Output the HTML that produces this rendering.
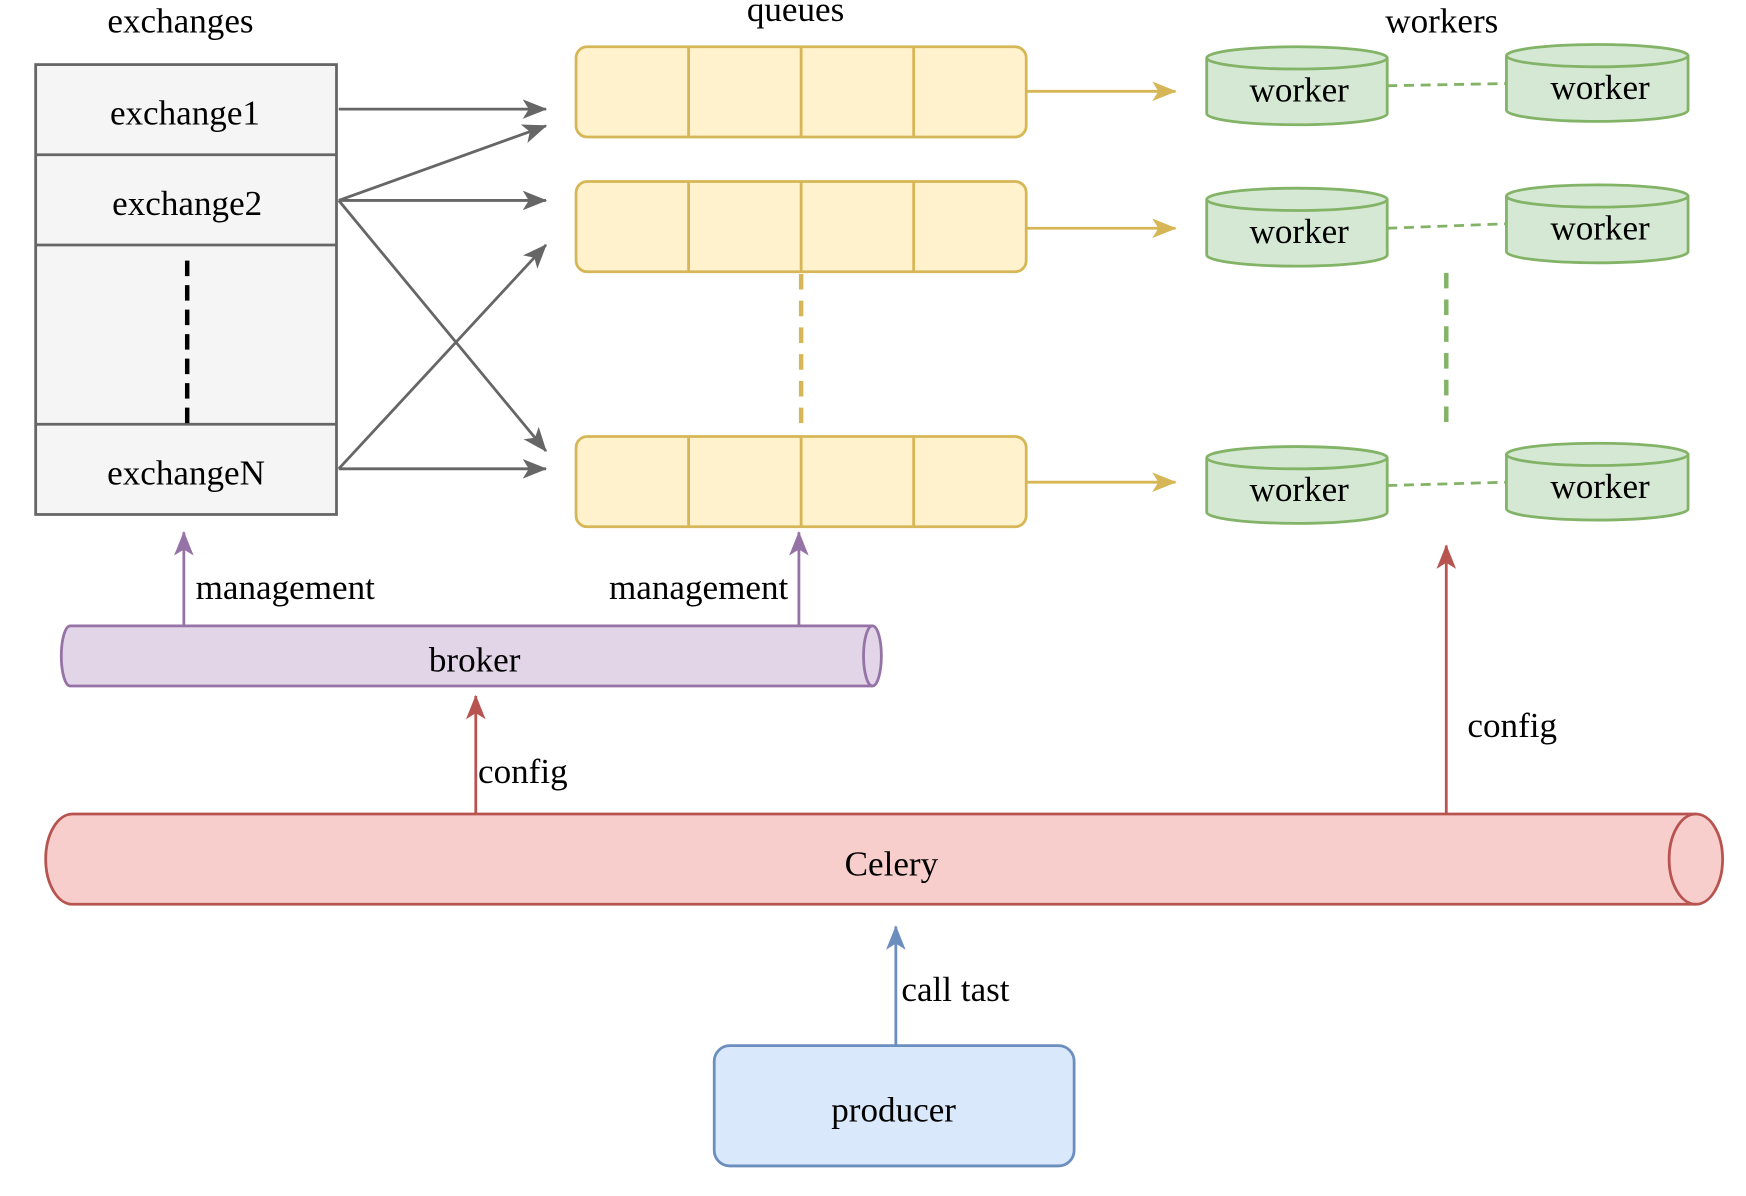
<!DOCTYPE html>
<html><head><meta charset="utf-8"><style>html,body{margin:0;padding:0;background:#fff}svg{display:block}text{font-family:"Liberation Serif",serif;font-size:31.5px;fill:#000}</style></head><body>
<svg width="1746" height="1196" viewBox="0 0 1567 1074" preserveAspectRatio="none" xmlns="http://www.w3.org/2000/svg">
<defs>
<marker id="g" viewBox="0 0 20 20" refX="19" refY="10" markerWidth="22" markerHeight="22" orient="auto" markerUnits="userSpaceOnUse"><path d="M0,2 L20,10 L0,18 L5,10z" fill="#666"/></marker>
<marker id="y" viewBox="0 0 20 20" refX="19" refY="10" markerWidth="22" markerHeight="22" orient="auto" markerUnits="userSpaceOnUse"><path d="M0,2 L20,10 L0,18 L5,10z" fill="#d6b656"/></marker>
<marker id="p" viewBox="0 0 20 20" refX="19" refY="10" markerWidth="22" markerHeight="22" orient="auto" markerUnits="userSpaceOnUse"><path d="M0,2 L20,10 L0,18 L5,10z" fill="#9673a6"/></marker>
<marker id="r" viewBox="0 0 20 20" refX="19" refY="10" markerWidth="22" markerHeight="22" orient="auto" markerUnits="userSpaceOnUse"><path d="M0,2 L20,10 L0,18 L5,10z" fill="#b85450"/></marker>
<marker id="b" viewBox="0 0 20 20" refX="19" refY="10" markerWidth="22" markerHeight="22" orient="auto" markerUnits="userSpaceOnUse"><path d="M0,2 L20,10 L0,18 L5,10z" fill="#6c8ebf"/></marker>
</defs>
<text x="162" y="29" text-anchor="middle">exchanges</text>
<text x="714" y="19" text-anchor="middle">queues</text>
<text x="1294" y="29" text-anchor="middle">workers</text>

<rect x="32" y="58" width="270" height="404" fill="#f5f5f5" stroke="#666" stroke-width="2.5"/>
<line x1="32" y1="139" x2="302" y2="139" stroke="#666" stroke-width="2.5"/>
<line x1="32" y1="220" x2="302" y2="220" stroke="#666" stroke-width="2.5"/>
<line x1="32" y1="381" x2="302" y2="381" stroke="#666" stroke-width="2.5"/>
<text x="166" y="112" text-anchor="middle">exchange1</text>
<text x="168" y="193" text-anchor="middle">exchange2</text>
<text x="167" y="435" text-anchor="middle">exchangeN</text>
<line x1="168" y1="234" x2="168" y2="380" stroke="#000" stroke-width="4" stroke-dasharray="14,8"/>

<g fill="#fff2cc" stroke="#d6b656" stroke-width="2.5">
<rect x="517" y="42" width="404" height="81" rx="10"/>
<rect x="517" y="163" width="404" height="81" rx="10"/>
<rect x="517" y="392" width="404" height="81" rx="10"/>
<path d="M618,42V123M719,42V123M820,42V123M618,163V244M719,163V244M820,163V244M618,392V473M719,392V473M820,392V473" fill="none"/>
</g>
<line x1="719" y1="246" x2="719" y2="390" stroke="#d6b656" stroke-width="4" stroke-dasharray="14,10"/>
<g stroke="#d6b656" stroke-width="2.5">
<line x1="921" y1="82" x2="1055" y2="82" marker-end="url(#y)"/>
<line x1="921" y1="205" x2="1055" y2="205" marker-end="url(#y)"/>
<line x1="921" y1="433" x2="1055" y2="433" marker-end="url(#y)"/>
</g>
<g stroke="#666" stroke-width="2.5">
<line x1="304" y1="98" x2="490" y2="98" marker-end="url(#g)"/>
<line x1="304" y1="180" x2="490" y2="113" marker-end="url(#g)"/>
<line x1="304" y1="180" x2="490" y2="180" marker-end="url(#g)"/>
<line x1="304" y1="180" x2="490" y2="405" marker-end="url(#g)"/>
<line x1="304" y1="421" x2="490" y2="220" marker-end="url(#g)"/>
<line x1="304" y1="421" x2="490" y2="421" marker-end="url(#g)"/>
</g>

<g fill="#d5e8d4" stroke="#82b366" stroke-width="2.5">
<path d="M1083,52 A81,10 0 0 1 1245,52 V102 A81,10 0 0 1 1083,102Z"/><path d="M1083,52 A81,10 0 0 0 1245,52" fill="none"/>
<path d="M1352,50 A81.5,10 0 0 1 1515,50 V99 A81.5,10 0 0 1 1352,99Z"/><path d="M1352,50 A81.5,10 0 0 0 1515,50" fill="none"/>
<path d="M1083,179 A81,10 0 0 1 1245,179 V229 A81,10 0 0 1 1083,229Z"/><path d="M1083,179 A81,10 0 0 0 1245,179" fill="none"/>
<path d="M1352,176 A81.5,10 0 0 1 1515,176 V226 A81.5,10 0 0 1 1352,226Z"/><path d="M1352,176 A81.5,10 0 0 0 1515,176" fill="none"/>
<path d="M1083,411 A81,10 0 0 1 1245,411 V460 A81,10 0 0 1 1083,460Z"/><path d="M1083,411 A81,10 0 0 0 1245,411" fill="none"/>
<path d="M1352,408 A81.5,10 0 0 1 1515,408 V457 A81.5,10 0 0 1 1352,457Z"/><path d="M1352,408 A81.5,10 0 0 0 1515,408" fill="none"/>
</g>
<text x="1166" y="91" text-anchor="middle">worker</text>
<text x="1436" y="89" text-anchor="middle">worker</text>
<text x="1166" y="218" text-anchor="middle">worker</text>
<text x="1436" y="215" text-anchor="middle">worker</text>
<text x="1166" y="450" text-anchor="middle">worker</text>
<text x="1436" y="447" text-anchor="middle">worker</text>
<g stroke="#82b366" stroke-width="2.5" stroke-dasharray="9,6">
<line x1="1245" y1="77" x2="1352" y2="75"/>
<line x1="1245" y1="205" x2="1352" y2="201"/>
<line x1="1245" y1="436" x2="1352" y2="433"/>
</g>
<line x1="1298" y1="245" x2="1298" y2="382" stroke="#82b366" stroke-width="4" stroke-dasharray="14,10"/>

<g stroke="#9673a6" stroke-width="2.5">
<line x1="165" y1="562" x2="165" y2="478" marker-end="url(#p)"/>
<line x1="717" y1="562" x2="717" y2="478" marker-end="url(#p)"/>
</g>
<text x="256" y="538" text-anchor="middle">management</text>
<text x="627" y="538" text-anchor="middle">management</text>
<path d="M63,562 H783 A8,27 0 0 1 783,616 H63 A8,27 0 0 1 63,562Z" fill="#e1d5e7" stroke="#9673a6" stroke-width="2.5"/>
<path d="M783,562 A8,27 0 0 0 783,616" fill="none" stroke="#9673a6" stroke-width="2.5"/>
<text x="426" y="603" text-anchor="middle">broker</text>

<g stroke="#b85450" stroke-width="2.5">
<line x1="427" y1="731" x2="427" y2="625" marker-end="url(#r)"/>
<line x1="1298" y1="731" x2="1298" y2="490" marker-end="url(#r)"/>
</g>
<text x="429" y="703">config</text>
<text x="1317" y="662">config</text>
<path d="M65,731 H1522 A24,40.5 0 0 1 1522,812 H65 A24,40.5 0 0 1 65,731Z" fill="#f8cecc" stroke="#b85450" stroke-width="2.5"/>
<path d="M1522,731 A24,40.5 0 0 0 1522,812" fill="none" stroke="#b85450" stroke-width="2.5"/>
<text x="800" y="786" text-anchor="middle">Celery</text>

<line x1="804" y1="939" x2="804" y2="832" stroke="#6c8ebf" stroke-width="2.5" marker-end="url(#b)"/>
<text x="809" y="899">call tast</text>
<rect x="641" y="939" width="323" height="108" rx="14" fill="#dae8fc" stroke="#6c8ebf" stroke-width="2.5"/>
<text x="802" y="1007" text-anchor="middle">producer</text>
</svg>
</body></html>
